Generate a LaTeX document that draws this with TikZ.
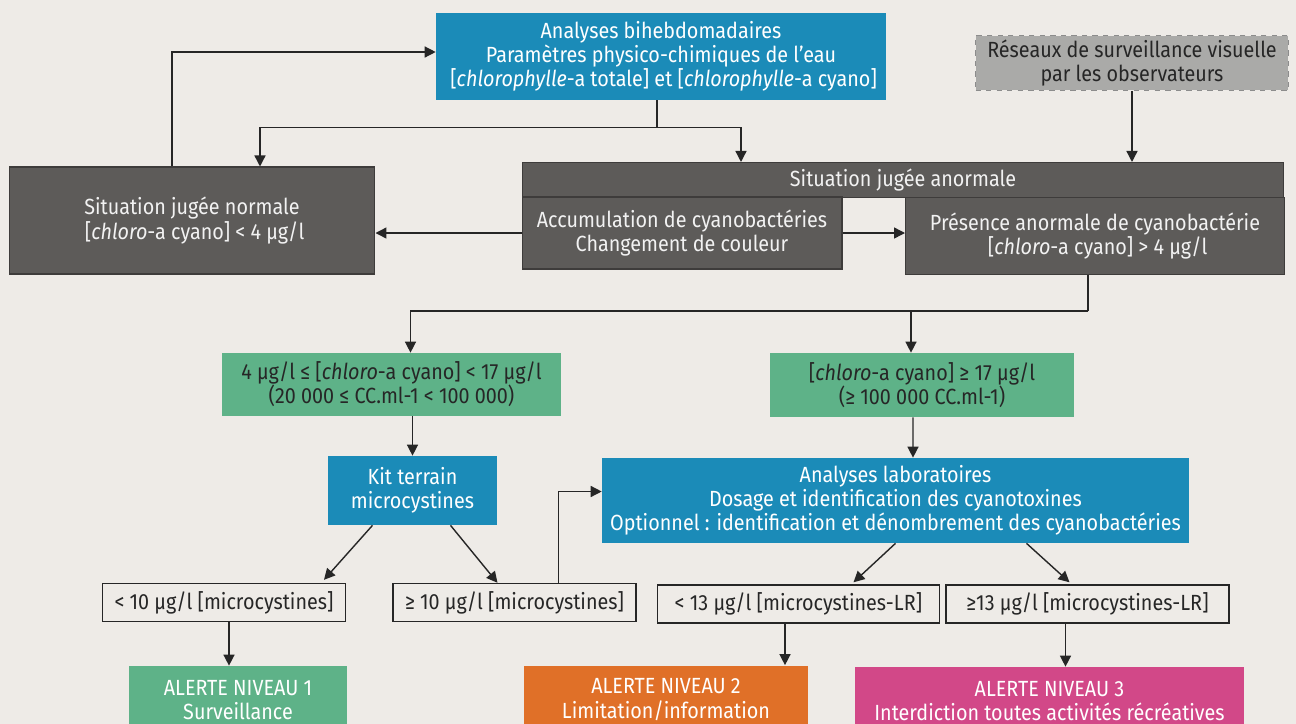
\documentclass[tikz,border=0pt]{standalone}
\usepackage{fontspec}
\setmainfont{Fira Sans}[FakeStretch=0.9]
\usetikzlibrary{arrows.meta,calc}

\definecolor{cbg}{HTML}{EEEBE7}
\definecolor{cblue}{HTML}{1B8BB8}
\definecolor{cdark}{HTML}{5D5B59}
\definecolor{cdarkline}{HTML}{3E3C3B}
\definecolor{cgreen}{HTML}{5EB288}
\definecolor{cgrey}{HTML}{AAAAA8}
\definecolor{corange}{HTML}{E07028}
\definecolor{cpink}{HTML}{D24888}
\definecolor{cink}{HTML}{262626}
\newcommand{\fs}{\fontsize{12.5}{13.8}\selectfont}

\tikzset{
  box/.style={rectangle, inner sep=0pt, align=center, font=\fs},
  bluebox/.style={box, fill=cblue, text=white},
  darkbox/.style={box, fill=cdark, draw=cdarkline, line width=0.6pt, text=white!95!black},
  greenbox/.style={box, fill=cgreen, text=cink},
  limitbox/.style={box, draw=cink, line width=0.8pt, text=cink},
  alertbox/.style={box, text=white, minimum height=1.36cm},
  arr/.style={-{Triangle[length=0.22cm, width=0.22cm]}, line width=0.8pt, draw=cink}
}

\begin{document}
\begin{tikzpicture}[x=0.02cm, y=-0.02cm]
\path[use as bounding box, fill=cbg] (0,0) rectangle (1296,724);
\clip (0,0) rectangle (1296,724);

% top row
\node[bluebox, minimum width=9cm, minimum height=1.74cm] (ana) at (661,56.5)
  {Analyses bihebdomadaires\\ Paramètres physico-chimiques de l’eau\\{}
   [\textit{chlorophylle}-a totale] et [\textit{chlorophylle}-a cyano]};
\node[box, fill=cgrey, draw=black!45, dashed, line width=0.7pt, text=cink,
  minimum width=6.26cm, minimum height=1.1cm] (reseaux) at (1132,63)
  {Réseaux de surveillance visuelle\\ par les observateurs};

% situations
\node[darkbox, minimum width=7.32cm, minimum height=2.14cm] (normale) at (192,220.5)
  {Situation jugée normale\\{} [\textit{chloro}-a cyano] < 4 µg/l};
\node[darkbox, minimum width=15.24cm, minimum height=0.7cm] (anormale) at (903,180)
  {Situation jugée anormale};
\node[darkbox, minimum width=6.4cm, minimum height=1.44cm] (accum) at (682,233)
  {Accumulation de cyanobactéries\\ Changement de couleur};
\node[darkbox, minimum width=7.58cm, minimum height=1.54cm] (presence) at (1095,236)
  {Présence anormale de cyanobactérie\\{} [\textit{chloro}-a cyano] > 4 µg/l};

% seuils chlorophylle
\node[greenbox, minimum width=6.78cm, minimum height=1.26cm] (green1) at (391.5,384.5)
  {4 µg/l ≤ [\textit{chloro}-a cyano] < 17 µg/l\\ (20 000 ≤ CC.ml-1 < 100 000)};
\node[greenbox, minimum width=6.08cm, minimum height=1.28cm] (green2) at (922,385)
  {{}[\textit{chloro}-a cyano] ≥ 17 µg/l\\ (≥ 100 000 CC.ml-1)};

% analyses
\node[bluebox, minimum width=3.38cm, minimum height=1.38cm] (kit) at (412.5,490.5)
  {Kit terrain\\ microcystines};
\node[bluebox, minimum width=11.74cm, minimum height=1.7cm] (labo) at (895.5,500.5)
  {Analyses laboratoires\\ Dosage et identification des cyanotoxines\\
   Optionnel : identification et dénombrement des cyanobactéries};

% seuils microcystines
\node[limitbox, minimum width=4.86cm, minimum height=0.76cm] (inf10) at (224,602.5)
  {< 10 µg/l [microcystines]};
\node[limitbox, minimum width=4.86cm, minimum height=0.76cm] (sup10) at (514.5,602.5)
  {≥ 10 µg/l [microcystines]};
\node[limitbox, minimum width=5.64cm, minimum height=0.76cm] (inf13) at (798.5,604)
  {< 13 µg/l [microcystines-LR]};
\node[limitbox, minimum width=5.66cm, minimum height=0.76cm] (sup13) at (1087.5,604)
  {≥13 µg/l [microcystines-LR]};

% alertes
\node[alertbox, fill=cgreen, minimum width=4.36cm] (alert1) at (238,700)
  {ALERTE NIVEAU 1\\ Surveillance};
\node[alertbox, fill=corange, minimum width=5.68cm] (alert2) at (666,699.5)
  {ALERTE NIVEAU 2\\ Limitation/information};
\node[alertbox, fill=cpink, minimum width=7.78cm] (alert3) at (1049.5,701)
  {ALERTE NIVEAU 3\\ Interdiction toutes activités récréatives};

% connecteurs
\draw[line width=0.8pt, draw=cink] ($(ana.south)+(-4,0)$) -- ++(0,27) coordinate (split);
\draw[arr] (split) -| ($(normale.north)+(68,0)$);
\draw[arr] (split) -| ($(anormale.north)+(-162,0)$);
\draw[arr] ($(normale.north)+(-20,0)$) |- ($(ana.west)+(0,-4.5)$);
\draw[arr] (reseaux.south) -- (reseaux.south |- anormale.north);
\draw[arr] (accum.west) -- (accum.west -| normale.east);
\draw[arr] (accum.east) -- (accum.east -| presence.west);
\draw[line width=0.8pt, draw=cink] ($(presence.south)+(-7,0)$) -- ++(0,36) coordinate (split2);
\draw[arr] (split2) -| ($(green1.north)+(19,0)$);
\draw[arr] (split2) -| ($(green2.north)+(-11,0)$);
\draw[arr] (kit.north |- green1.south) -- (kit.north);
\draw[arr] ($(green2.south)+(-9,0)$) -- ($(labo.north)+(17.5,0)$);
\draw[arr] ($(kit.south)+(-40,0)$) -- ($(inf10.north)+(100,-3)$);
\draw[arr] ($(kit.south)+(38,0)$) -- ($(sup10.north)+(-17,0)$);
\draw[arr] ($(sup10.north)+(44,0)$) |- ($(labo.west)+(0,-9)$);
\draw[arr] (labo.south) -- ($(inf13.north)+(55,-2)$);
\draw[arr] ($(labo.south)+(131,0)$) -- ($(sup13.north)+(-18,-2)$);
\draw[arr] ($(inf10.south)+(5,0)$) -- ($(alert1.north)+(-9,0)$);
\draw[arr] ($(inf13.south)+(-13.5,0)$) -- ($(alert2.north)+(119,0)$);
\draw[arr] ($(sup13.south)+(-22,0)$) -- ($(alert3.north)+(16,0)$);
\end{tikzpicture}
\end{document}
